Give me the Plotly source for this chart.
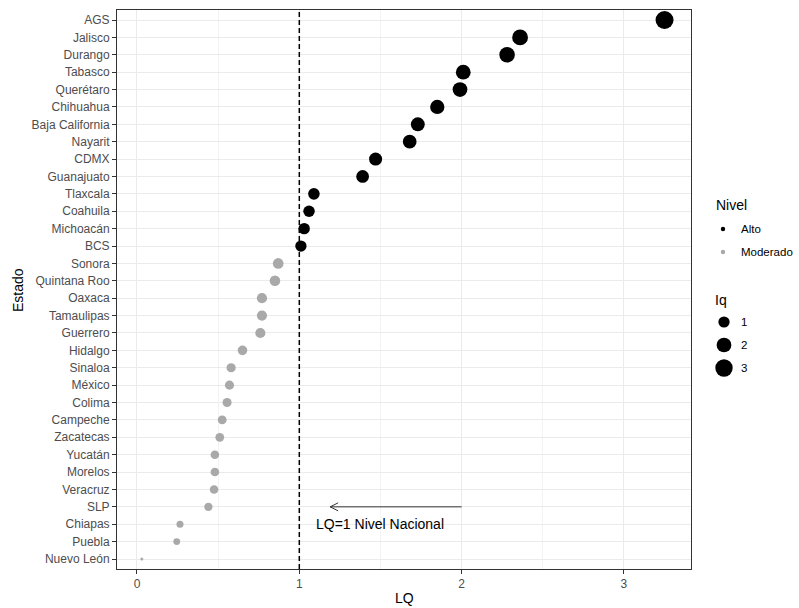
import plotly.graph_objects as go
import numpy as np

# Data (top to bottom as displayed)
estados = ["AGS", "Jalisco", "Durango", "Tabasco", "Querétaro", "Chihuahua",
           "Baja California", "Nayarit", "CDMX", "Guanajuato", "Tlaxcala",
           "Coahuila", "Michoacán", "BCS", "Sonora", "Quintana Roo", "Oaxaca",
           "Tamaulipas", "Guerrero", "Hidalgo", "Sinaloa", "México", "Colima",
           "Campeche", "Zacatecas", "Yucatán", "Morelos", "Veracruz", "SLP",
           "Chiapas", "Puebla", "Nuevo León"]
lq = [3.25, 2.36, 2.28, 2.01, 1.99, 1.85, 1.73, 1.68, 1.47, 1.39, 1.09,
      1.06, 1.03, 1.01, 0.87, 0.85, 0.77, 0.77, 0.76, 0.65, 0.58, 0.57, 0.555,
      0.525, 0.51, 0.48, 0.48, 0.475, 0.44, 0.265, 0.245, 0.03]
nivel = ["Alto"] * 14 + ["Moderado"] * 18
nivel_colors = {"Alto": "#000000", "Moderado": "#A9A9A9"}
size_legend_vals = [1, 2, 3]
x_ticks = [0, 1, 2, 3]

annot_text = "LQ=1 Nivel Nacional"
arrow_from, arrow_to, arrow_row = 2.0, 1.19, "SLP"
text_x, text_row = 1.5, "Chiapas"

vmin, vmax = min(lq), max(lq)
def diam(v):
    return 3 + 15 * np.sqrt(max(v - vmin, 0) / (vmax - vmin))

cat_order = estados[::-1]  # bottom to top
W, H = 799, 608
L, R, T, B = 117, 108, 10, 39
pw, ph = W - L - R, H - T - B

fig = go.Figure()
for nv in ["Alto", "Moderado"]:
    xs = [v for v, n in zip(lq, nivel) if n == nv]
    ys = [e for e, n in zip(estados, nivel) if n == nv]
    fig.add_trace(go.Scatter(
        x=xs, y=ys, mode="markers", showlegend=False,
        marker=dict(color=nivel_colors[nv], size=[diam(v) for v in xs],
                    line=dict(width=0), opacity=1),
        hoverinfo="x+y"))

shapes = []
# dashed reference line
shapes.append(dict(type="line", xref="x", yref="paper", x0=1, x1=1, y0=0, y1=1,
                   line=dict(color="black", width=1.5, dash="5px,3px"), layer="above"))
# arrow line
yi = cat_order.index(arrow_row)
shapes.append(dict(type="line", xref="x", yref="y", x0=arrow_to, x1=arrow_from,
                   y0=yi, y1=yi, line=dict(color="#333333", width=1)))
shapes.append(dict(type="path", xref="x", yref="y", xsizemode="pixel", ysizemode="pixel",
                   xanchor=arrow_to, yanchor=yi, path="M 8,-4 L 0,0 L 8,4",
                   line=dict(color="#333333", width=1)))

fx = "Liberation Sans, Arial"
annotations = [dict(x=text_x, y=text_row, xref="x", yref="y", text=annot_text,
                    showarrow=False, font=dict(size=14, color="black", family=fx))]

def px2paper(px, py):
    return (px - L) / pw, (H - B - py) / ph

# Axis titles
ax_, ay_ = px2paper(404, 598)
annotations.append(dict(x=ax_, y=ay_, xref="paper", yref="paper", text="LQ",
                        showarrow=False, xanchor="center", yanchor="middle",
                        font=dict(size=14, color="black", family=fx)))
ax_, ay_ = px2paper(18, 290)
annotations.append(dict(x=ax_, y=ay_, xref="paper", yref="paper", text="Estado",
                        showarrow=False, xanchor="center", yanchor="middle", textangle=-90,
                        font=dict(size=14, color="black", family=fx)))

# Legend: Nivel
tx, ty = px2paper(714, 205)
annotations.append(dict(x=tx, y=ty, xref="paper", yref="paper", text="Nivel",
                        showarrow=False, xanchor="left", yanchor="middle",
                        font=dict(size=14, color="black", family=fx)))
for i, nv in enumerate(["Alto", "Moderado"]):
    py = 229 + i * 23
    cx, cy = px2paper(723, py)
    shapes.append(dict(type="circle", xref="paper", yref="paper", xsizemode="pixel",
                       ysizemode="pixel", xanchor=cx, yanchor=cy, x0=-2.2, x1=2.2,
                       y0=-2.2, y1=2.2, fillcolor=nivel_colors[nv], line=dict(width=0)))
    lx, ly = px2paper(739, py)
    annotations.append(dict(x=lx, y=ly, xref="paper", yref="paper", text=nv,
                            showarrow=False, xanchor="left", yanchor="middle",
                            font=dict(size=11.5, color="black", family=fx)))
# Legend: Iq
tx, ty = px2paper(713, 300)
annotations.append(dict(x=tx, y=ty, xref="paper", yref="paper", text="Iq",
                        showarrow=False, xanchor="left", yanchor="middle",
                        font=dict(size=14, color="black", family=fx)))
for i, sv in enumerate(size_legend_vals):
    py = 322 + i * 23
    cx, cy = px2paper(724, py)
    r = diam(sv) / 2
    shapes.append(dict(type="circle", xref="paper", yref="paper", xsizemode="pixel",
                       ysizemode="pixel", xanchor=cx, yanchor=cy, x0=-r, x1=r,
                       y0=-r, y1=r, fillcolor="black", line=dict(width=0)))
    lx, ly = px2paper(739, py)
    annotations.append(dict(x=lx, y=ly, xref="paper", yref="paper", text=str(sv),
                            showarrow=False, xanchor="left", yanchor="middle",
                            font=dict(size=11.5, color="black", family=fx)))

fig.update_layout(
    width=W, height=H, margin=dict(l=L, r=R, t=T, b=B, pad=0, autoexpand=False),
    paper_bgcolor="white", plot_bgcolor="white",
    font=dict(family=fx, color="black"),
    shapes=shapes, annotations=annotations, showlegend=False,
    xaxis=dict(range=[-0.123, 3.413], tickvals=x_ticks, ticktext=[str(t) for t in x_ticks],
               showgrid=True, gridcolor="#EBEBEB", gridwidth=1,
               minor=dict(dtick=0.5, tick0=0, showgrid=True, gridcolor="#F3F3F3", gridwidth=0.6),
               ticks="outside", ticklen=4, tickcolor="#333333", tickwidth=1,
               tickfont=dict(size=12, color="#4D4D4D", family=fx),
               showline=True, mirror=True, linecolor="#333333", linewidth=1,
               zeroline=False, automargin=False),
    yaxis=dict(type="category", categoryorder="array", categoryarray=cat_order,
               range=[-0.575, len(cat_order) - 1 + 0.575],
               showgrid=True, gridcolor="#EBEBEB", gridwidth=1,
               ticks="outside", ticklen=4, tickcolor="#333333", tickwidth=1,
               tickfont=dict(size=12, color="#4D4D4D", family=fx),
               showline=True, mirror=True, linecolor="#333333", linewidth=1,
               zeroline=False, automargin=False),
)

fig.write_html("out.html", config={"displayModeBar": False},
               post_script="document.body.style.margin='0';document.body.style.padding='0';")
